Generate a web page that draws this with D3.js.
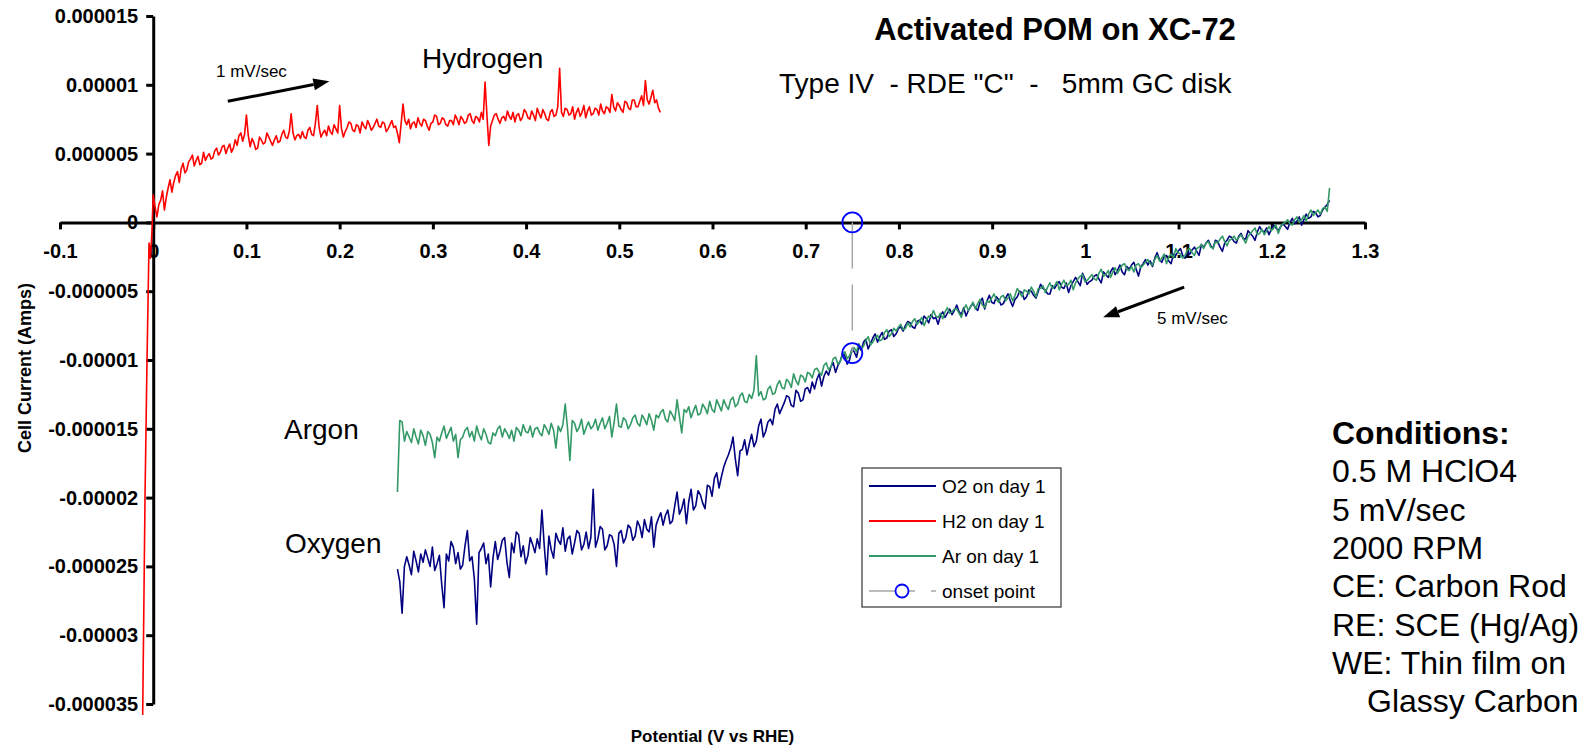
<!DOCTYPE html>
<html>
<head>
<meta charset="utf-8">
<script src="https://cdn.jsdelivr.net/npm/d3@7"></script>
<style>
  html, body { margin: 0; padding: 0; background: #fff; }
  svg { display: block; font-family: "Liberation Sans", Arial, Helvetica, sans-serif; }
  .pre { white-space: pre; }
</style>
</head>
<body>
<svg id="chart" width="1587" height="746"></svg>
<script>
// ---- Axis ticks (potential in mV, current in µA) ----
const xTickValues = [-100, 0, 100, 200, 300, 400, 500, 600, 700, 800, 900, 1000, 1100, 1200, 1300];
const xTickLabels = ["-0.1", "0", "0.1", "0.2", "0.3", "0.4", "0.5", "0.6", "0.7", "0.8", "0.9", "1", "1.1", "1.2", "1.3"];
const yTickValues = [15, 10, 5, 0, -5, -10, -15, -20, -25, -30, -35];
const yTickLabels = ["0.000015", "0.00001", "0.000005", "0", "-0.000005", "-0.00001", "-0.000015", "-0.00002", "-0.000025", "-0.00003", "-0.000035"];

// ---- Cathodic sweeps (O2 and Ar share the potential grid), mV ----
const sweepPotential = [
  262, 264.5, 267, 269.5, 272, 274.5, 277, 279.5, 282, 284.5, 287, 289.5, 292, 294.5, 297, 299.5, 302, 304.5, 307, 309.5,
  312, 314.5, 317, 319.5, 322, 324.5, 327, 329.5, 332, 334.5, 337, 339.5, 342, 344.5, 347, 349.5, 352, 354.5, 357, 359.5,
  362, 364.5, 367, 369.5, 372, 374.5, 377, 379.5, 382, 384.5, 387, 389.5, 392, 394.5, 397, 399.5, 402, 404.5, 407, 409.5,
  412, 414.5, 417, 419.5, 422, 424.5, 427, 429.5, 432, 434.5, 437, 439.5, 442, 444.5, 447, 449.5, 452, 454.5, 457, 459.5,
  462, 464.5, 467, 469.5, 472, 474.5, 477, 479.5, 482, 484.5, 487, 489.5, 492, 494.5, 497, 499.5, 502, 504.5, 507, 509.5,
  512, 514.5, 517, 519.5, 522, 524.5, 527, 529.5, 532, 534.5, 537, 539.5, 542, 544.5, 547, 549.5, 552, 554.5, 557, 559.5,
  562, 564.5, 567, 569.5, 572, 574.5, 577, 579.5, 582, 584.5, 587, 589.5, 592, 594.5, 597, 599.5, 602, 604.5, 607, 609.5,
  612, 614.5, 617, 619.5, 622, 624.5, 627, 629.5, 632, 634.5, 637, 639.5, 642, 644.5, 647, 649.5, 652, 654.5, 657, 659.5,
  662, 664.5, 667, 669.5, 672, 674.5, 677, 679.5, 682, 684.5, 687, 689.5, 692, 694.5, 697, 699.5, 702, 704.5, 707, 709.5,
  712, 714.5, 717, 719.5, 722, 724.5, 727, 729.5, 732, 734.5, 737, 739.5, 742, 744.5, 747, 749.5, 752, 754.5, 757, 759.5,
  762, 764.5, 767, 769.5, 772, 774.5, 777, 779.5, 782, 784.5, 787, 789.5, 792, 794.5, 797, 799.5, 802, 804.5, 807, 809.5,
  812, 814.5, 817, 819.5, 822, 824.5, 827, 829.5, 832, 834.5, 837, 839.5, 842, 844.5, 847, 849.5, 852, 854.5, 857, 859.5,
  862, 864.5, 867, 869.5, 872, 874.5, 877, 879.5, 882, 884.5, 887, 889.5, 892, 894.5, 897, 899.5, 902, 904.5, 907, 909.5,
  912, 914.5, 917, 919.5, 922, 924.5, 927, 929.5, 932, 934.5, 937, 939.5, 942, 944.5, 947, 949.5, 952, 954.5, 957, 959.5,
  962, 964.5, 967, 969.5, 972, 974.5, 977, 979.5, 982, 984.5, 987, 989.5, 992, 994.5, 997, 999.5, 1002, 1004.5, 1007, 1009.5,
  1012, 1014.5, 1017, 1019.5, 1022, 1024.5, 1027, 1029.5, 1032, 1034.5, 1037, 1039.5, 1042, 1044.5, 1047, 1049.5, 1052, 1054.5, 1057, 1059.5,
  1062, 1064.5, 1067, 1069.5, 1072, 1074.5, 1077, 1079.5, 1082, 1084.5, 1087, 1089.5, 1092, 1094.5, 1097, 1099.5, 1102, 1104.5, 1107, 1109.5,
  1112, 1114.5, 1117, 1119.5, 1122, 1124.5, 1127, 1129.5, 1132, 1134.5, 1137, 1139.5, 1142, 1144.5, 1147, 1149.5, 1152, 1154.5, 1157, 1159.5,
  1162, 1164.5, 1167, 1169.5, 1172, 1174.5, 1177, 1179.5, 1182, 1184.5, 1187, 1189.5, 1192, 1194.5, 1197, 1199.5, 1202, 1204.5, 1207, 1209.5,
  1212, 1214.5, 1217, 1219.5, 1222, 1224.5, 1227, 1229.5, 1232, 1234.5, 1237, 1239.5, 1242, 1244.5, 1247, 1249.5, 1252, 1254.5, 1257, 1259.5,
  1262
];

// O2 on day 1, µA
const o2Current = [
  -25.2, -26.1, -28.4, -25.0, -24.3, -24.9, -25.6, -23.9, -24.6, -25.4, -24.1, -24.7, -23.8, -24.4, -25.0, -23.6, -25.3, -24.8, -24.2, -26.3,
  -28.0, -24.1, -24.6, -23.2, -23.6, -24.8, -24.0, -25.2, -24.9, -23.5, -22.4, -24.6, -24.3, -25.9, -29.2, -24.0, -23.7, -23.3, -24.8, -24.1,
  -26.5, -24.4, -23.2, -24.5, -23.9, -23.1, -22.9, -24.7, -25.8, -23.3, -24.0, -22.5, -22.7, -24.3, -23.5, -24.8, -24.2, -22.9, -23.4, -24.0,
  -23.0, -23.7, -20.9, -23.5, -25.6, -22.8, -23.8, -24.4, -22.6, -23.1, -23.4, -22.2, -23.9, -23.0, -22.8, -24.1, -23.3, -22.4, -22.6, -23.8,
  -23.4, -22.5, -23.7, -22.9, -19.4, -23.6, -23.0, -22.1, -22.3, -23.8, -23.5, -22.7, -22.8, -23.4, -25.0, -22.6, -22.4, -23.3, -22.9, -22.0,
  -22.2, -23.1, -22.8, -21.7, -22.1, -22.9, -21.6, -22.3, -22.5, -21.4, -23.6, -22.0, -21.5, -21.1, -22.0, -21.3, -20.9, -21.9, -21.7, -20.6,
  -19.6, -21.2, -20.8, -20.1, -21.9, -20.3, -19.4, -20.9, -20.6, -19.5, -19.8, -20.4, -20.8, -19.1, -19.2, -19.9, -18.6, -18.2, -19.3, -18.5,
  -17.8, -17.3, -16.9, -16.4, -15.6, -17.2, -18.4, -16.6, -16.5, -15.8, -16.9, -16.1, -15.4, -16.3, -15.9, -14.8, -14.3, -15.6, -15.2, -14.5,
  -14.3, -14.7, -13.6, -13.2, -13.9, -13.5, -13.1, -12.6, -12.7, -13.3, -13.4, -12.2, -12.4, -13.0, -12.9, -12.1, -12.0, -12.4, -11.6, -12.1,
  -11.4, -11.0, -11.9, -11.2, -10.8, -11.1, -10.5, -10.2, -10.9, -10.4, -10.1, -9.5, -9.7, -10.3, -10.0, -9.2, -9.4, -9.8, -9.0, -9.3,
  -8.7, -8.5, -9.2, -8.8, -8.4, -8.1, -8.7, -8.3, -8.0, -8.5, -8.4, -7.9, -7.8, -8.3, -8.1, -7.7, -7.6, -7.9, -7.5, -7.2,
  -7.3, -7.6, -7.7, -7.2, -7.1, -7.4, -6.8, -7.0, -7.3, -6.7, -7.0, -6.9, -7.4, -6.8, -6.5, -6.9, -6.6, -6.3, -6.7, -6.4,
  -6.0, -6.5, -6.7, -6.2, -6.8, -6.4, -6.1, -5.9, -6.2, -6.4, -5.8, -5.5, -6.3, -5.7, -5.3, -5.8, -5.9, -5.4, -5.6, -6.0,
  -5.9, -5.5, -5.2, -5.7, -6.1, -5.6, -5.4, -5.0, -5.1, -5.6, -5.4, -4.9, -5.0, -5.3, -5.5, -5.0, -4.5, -4.8, -4.9, -5.2,
  -5.2, -4.6, -4.8, -4.5, -4.3, -4.7, -4.8, -4.4, -5.1, -4.6, -4.3, -4.0, -4.3, -4.6, -3.7, -4.1, -4.5, -4.3, -4.2, -3.9,
  -3.8, -4.1, -4.4, -3.6, -3.8, -4.0, -3.6, -3.3, -3.8, -3.5, -3.1, -3.6, -3.8, -3.2, -3.4, -3.1, -2.9, -3.4, -3.9, -3.2,
  -3.0, -2.7, -3.1, -2.8, -3.2, -2.6, -2.2, -2.7, -2.9, -2.5, -2.4, -2.8, -3.0, -2.3, -2.4, -2.1, -1.9, -2.4, -2.6, -2.2,
  -2.3, -2.0, -1.8, -2.1, -2.4, -1.6, -1.8, -1.5, -1.3, -1.7, -1.9, -1.3, -1.4, -1.8, -2.1, -1.5, -1.3, -1.0, -1.1, -1.4,
  -1.5, -1.0, -0.8, -1.2, -1.2, -0.6, -0.8, -1.0, -1.3, -0.7, -0.3, -0.6, -0.7, -0.4, -0.9, -0.5, -0.2, -0.4, -0.6, -0.3,
  -0.1, -0.3, -0.5, 0.0, 0.3, -0.1, 0.1, 0.4, -0.2, 0.2, 0.6, 0.3, 0.4, 0.8, 0.7, 0.4, 0.5, 0.9, 1.1, 1.3,
  1.6
];

// Ar on day 1, µA
const arCurrent = [
  -19.6, -14.4, -14.5, -15.9, -15.2, -15.6, -16.0, -15.0, -15.6, -16.1, -15.1, -15.5, -16.2, -15.2, -15.4, -16.0, -17.1, -15.6, -15.9, -15.3,
  -14.8, -15.7, -15.3, -14.9, -15.9, -15.4, -17.1, -15.8, -15.6, -15.1, -14.9, -15.6, -15.2, -15.9, -14.8, -15.4, -15.8, -15.0, -15.4, -16.0,
  -16.1, -15.3, -15.5, -15.0, -14.8, -15.6, -15.0, -15.3, -15.7, -15.1, -15.9, -14.9, -15.1, -15.5, -14.7, -15.2, -15.3, -14.8, -15.6, -15.0,
  -14.9, -15.3, -15.5, -14.7, -15.0, -15.4, -14.6, -15.1, -16.4, -14.8, -15.2, -14.7, -13.2, -15.0, -17.3, -14.4, -14.6, -15.2, -14.9, -14.3,
  -15.4, -14.9, -14.5, -15.0, -14.8, -14.3, -15.1, -14.6, -14.2, -15.0, -14.6, -14.1, -15.6, -14.5, -13.2, -14.8, -14.9, -14.2, -14.4, -15.0,
  -14.7, -14.2, -14.0, -14.6, -14.8, -14.0, -14.3, -14.7, -13.9, -14.4, -15.1, -14.0, -14.2, -13.8, -13.6, -14.3, -14.5, -13.7, -14.0, -14.4,
  -12.9, -14.1, -15.3, -13.6, -13.8, -13.4, -14.2, -13.7, -13.3, -14.0, -13.9, -13.2, -13.5, -13.9, -13.0, -13.6, -13.8, -12.9, -13.3, -13.7,
  -12.9, -13.3, -13.6, -12.9, -12.7, -13.4, -13.2, -12.6, -12.4, -13.0, -13.1, -12.5, -12.8, -12.2, -9.7, -12.6, -12.3, -12.9, -12.8, -12.1,
  -11.9, -12.5, -12.4, -11.8, -11.5, -12.0, -12.1, -11.4, -11.6, -12.0, -11.0, -11.5, -11.8, -11.1, -11.2, -11.6, -10.9, -11.0, -11.3, -10.7,
  -10.6, -10.9, -11.1, -10.4, -10.2, -10.7, -10.5, -9.9, -9.8, -10.3, -10.1, -9.6, -9.4, -9.9, -9.7, -9.3, -9.1, -9.4, -8.8, -9.2,
  -9.0, -8.6, -8.3, -8.9, -8.7, -8.4, -8.2, -8.6, -8.5, -8.0, -7.8, -8.3, -8.1, -7.7, -7.9, -7.6, -7.4, -7.8, -7.7, -7.3,
  -7.6, -7.2, -7.0, -7.4, -7.2, -6.9, -7.5, -7.1, -6.8, -6.9, -6.4, -6.8, -6.9, -6.6, -7.0, -6.5, -6.2, -6.6, -6.5, -6.3,
  -6.3, -6.6, -6.9, -6.3, -6.0, -6.4, -6.1, -5.8, -6.3, -5.9, -5.6, -6.0, -6.2, -5.7, -5.8, -5.5, -5.2, -5.6, -5.8, -5.4,
  -5.3, -5.7, -5.5, -5.2, -5.7, -5.3, -4.8, -5.1, -5.4, -4.9, -5.0, -5.2, -4.7, -5.0, -5.4, -4.8, -4.8, -4.6, -5.1, -4.7,
  -4.4, -4.8, -4.6, -4.3, -4.9, -4.5, -4.2, -4.6, -4.5, -4.2, -4.9, -4.4, -4.1, -3.9, -3.8, -4.3, -4.2, -4.0, -3.8, -4.1,
  -4.2, -3.7, -3.4, -3.9, -3.8, -3.5, -4.0, -3.6, -3.3, -3.7, -3.4, -3.1, -3.0, -3.4, -3.5, -3.2, -3.6, -3.1, -3.0, -3.3,
  -3.1, -2.9, -2.7, -3.0, -3.1, -2.7, -2.4, -2.8, -2.6, -2.3, -3.0, -2.5, -2.3, -2.6, -1.9, -2.2, -2.3, -2.6, -2.4, -2.0,
  -1.9, -2.2, -2.4, -1.9, -1.8, -1.6, -1.9, -1.5, -1.4, -1.8, -1.9, -1.4, -1.5, -1.2, -1.0, -1.4, -1.7, -1.3, -1.2, -1.0,
  -1.3, -1.1, -0.9, -1.2, -1.5, -1.0, -0.8, -0.6, -0.4, -0.9, -0.8, -0.5, -0.9, -0.6, -0.3, -0.6, -0.4, -0.2, -0.8, -0.3,
  -0.1, 0.0, 0.2, -0.1, -0.2, 0.2, 0.4, 0.0, 0.2, 0.5, 0.1, 0.6, 0.9, 0.5, 0.7, 0.9, 0.6, 1.0, 1.1, 0.8,
  2.5
];

// ---- Anodic sweep under H2, mV ----
const h2Potential = [
  -11.3, -8.8, -6.8, -4.5, -3.0, -1.5,
  0, 2, 4, 6, 8, 10, 12, 14, 16, 18, 20, 22, 24, 26, 28, 30, 32, 34, 36, 38,
  40, 42, 44, 46, 48, 50, 52, 54, 56, 58, 60, 62, 64, 66, 68, 70, 72, 74, 76, 78,
  80, 82, 84, 86, 88, 90, 92, 94, 96, 98, 100, 102, 104, 106, 108, 110, 112, 114, 116, 118,
  120, 122, 124, 126, 128, 130, 132, 134, 136, 138, 140, 142, 144, 146, 148, 150, 152, 154, 156, 158,
  160, 162, 164, 166, 168, 170, 172, 174, 176, 178, 180, 182, 184, 186, 188, 190, 192, 194, 196, 198,
  200, 202, 204, 206, 208, 210, 212, 214, 216, 218, 220, 222, 224, 226, 228, 230, 232, 234, 236, 238,
  240, 242, 244, 246, 248, 250, 252, 254, 256, 258, 260, 262, 264, 266, 268, 270, 272, 274, 276, 278,
  280, 282, 284, 286, 288, 290, 292, 294, 296, 298, 300, 302, 304, 306, 308, 310, 312, 314, 316, 318,
  320, 322, 324, 326, 328, 330, 332, 334, 336, 338, 340, 342, 344, 346, 348, 350, 352, 354, 356, 358,
  360, 362, 364, 366, 368, 370, 372, 374, 376, 378, 380, 382, 384, 386, 388, 390, 392, 394, 396, 398,
  400, 402, 404, 406, 408, 410, 412, 414, 416, 418, 420, 422, 424, 426, 428, 430, 432, 434, 436, 438,
  440, 442, 444, 446, 448, 450, 452, 454, 456, 458, 460, 462, 464, 466, 468, 470, 472, 474, 476, 478,
  480, 482, 484, 486, 488, 490, 492, 494, 496, 498, 500, 502, 504, 506, 508, 510, 512, 514, 516, 518,
  520, 522, 524, 526, 528, 530, 532, 534, 536, 538, 540, 542, 544
];

// H2 on day 1, µA
const h2Current = [
  -35.8, -20.0, -10.7, -1.5, -2.6, -0.9,
  2.0, 1.1, 0.4, 1.3, 1.6, 2.3, 0.9, 1.8, 2.5, 3.1, 2.2, 2.9, 3.4, 3.7, 2.9, 3.9, 4.3, 3.6, 3.8, 4.4,
  4.6, 4.9, 4.1, 4.5, 4.8, 4.2, 4.3, 5.1, 4.5, 4.8, 5.0, 4.6, 4.7, 5.2, 5.4, 4.9, 5.1, 5.5, 5.6, 5.0,
  5.4, 5.7, 5.1, 5.4, 6.0, 5.6, 6.3, 6.5, 5.9, 6.4, 7.8, 6.3, 5.5, 6.1, 5.8, 5.3, 5.4, 6.2, 6.0, 5.7,
  5.8, 6.5, 6.2, 5.9, 5.6, 6.0, 6.3, 5.8, 5.9, 6.4, 6.7, 6.2, 6.1, 6.6, 7.9, 6.5, 6.0, 6.3, 6.4, 6.1,
  6.6, 6.2, 6.1, 6.7, 6.9, 6.4, 6.3, 7.2, 8.5, 6.9, 6.2, 6.5, 6.7, 6.3, 7.0, 6.6, 6.4, 7.1, 6.8, 6.5,
  8.5, 6.8, 6.2, 6.6, 6.9, 7.3, 7.2, 6.7, 6.6, 7.1, 7.0, 6.5, 7.3, 7.0, 6.8, 7.4, 7.1, 6.7, 6.9, 7.2,
  7.5, 7.0, 6.9, 7.3, 7.2, 6.6, 6.8, 7.1, 7.4, 6.9, 7.0, 6.5, 5.8, 7.2, 8.6, 7.4, 7.1, 7.5, 6.8, 7.2,
  7.3, 6.9, 7.6, 7.2, 7.0, 7.5, 7.4, 7.0, 6.7, 7.2, 7.3, 7.8, 7.7, 7.1, 7.2, 7.6, 7.5, 7.1, 7.0, 7.4,
  7.4, 7.1, 7.8, 7.5, 7.1, 7.7, 7.5, 7.2, 7.3, 7.8, 7.9, 7.4, 7.2, 7.7, 7.6, 7.3, 8.0, 7.5, 10.2, 7.8,
  5.6, 7.0, 7.4, 7.8, 7.9, 7.5, 7.2, 7.6, 7.7, 7.4, 8.1, 7.7, 7.5, 8.0, 7.3, 7.8, 7.9, 7.4, 7.6, 8.2,
  8.0, 7.6, 7.5, 8.1, 7.8, 7.4, 8.3, 7.9, 7.6, 8.2, 7.9, 7.5, 7.4, 8.0, 8.2, 7.7, 7.8, 8.4, 11.2, 8.0,
  7.7, 8.3, 8.2, 7.8, 7.9, 8.4, 7.5, 8.0, 8.3, 7.7, 8.0, 8.5, 7.6, 8.1, 8.4, 7.8, 7.9, 8.3, 8.2, 7.8,
  8.6, 8.1, 7.9, 8.4, 8.3, 8.0, 9.3, 8.4, 8.1, 8.7, 8.5, 8.2, 8.0, 8.8, 8.7, 8.3, 8.2, 8.9, 8.9, 8.4,
  8.4, 8.8, 9.2, 8.5, 10.3, 8.9, 8.6, 9.1, 9.6, 8.7, 8.9, 8.3, 8.0
];

// Onset point: marked on the axis and on the O2 curve
const onsetPotential = [750, 750];
const onsetCurrent = [0, -9.5];

const seriesNames = ["O2 on day 1", "H2 on day 1", "Ar on day 1", "onset point"];

if (sweepPotential.length !== o2Current.length || sweepPotential.length !== arCurrent.length ||
    h2Potential.length !== h2Current.length) {
  throw new Error("series length mismatch: " + [sweepPotential.length, o2Current.length, arCurrent.length, h2Potential.length, h2Current.length].join(","));
}

// ---- Layout ----
const svg = d3.select("#chart");
const x = d3.scaleLinear().domain([-100, 1300]).range([60, 1365]);
const y = d3.scaleLinear().domain([-35, 15]).range([704, 16]);

const AXIS_FONT = 20;

// Axes
const xAxis = d3.axisBottom(x)
  .tickValues(xTickValues)
  .tickFormat((d, i) => xTickLabels[i])
  .tickSizeInner(7).tickSizeOuter(0).tickPadding(14);
const yAxis = d3.axisLeft(y)
  .tickValues(yTickValues)
  .tickFormat((d, i) => yTickLabels[i])
  .tickSizeInner(7).tickSizeOuter(0).tickPadding(8);

function styleAxis(g) {
  g.select(".domain").attr("stroke", "#000").attr("stroke-width", 3);
  g.selectAll(".tick line").attr("stroke", "#000").attr("stroke-width", 3);
  g.selectAll(".tick text")
    .attr("fill", "#000")
    .style("font-family", '"Liberation Sans", Arial, sans-serif')
    .style("font-weight", "bold")
    .style("font-size", AXIS_FONT + "px");
}

svg.append("g")
  .attr("transform", `translate(0,${y(0)})`)
  .call(xAxis)
  .call(styleAxis);

svg.append("g")
  .attr("transform", `translate(${x(0)},0)`)
  .call(yAxis)
  .call(styleAxis);

// Axis titles
svg.append("text")
  .attr("x", (x.range()[0] + x.range()[1]) / 2)
  .attr("y", 742)
  .attr("text-anchor", "middle")
  .style("font-weight", "bold").style("font-size", "17px")
  .text("Potential (V vs RHE)");

svg.append("text")
  .attr("transform", "translate(31,368) rotate(-90)")
  .attr("text-anchor", "middle")
  .style("font-weight", "bold").style("font-size", "18px")
  .text("Cell Current (Amps)");

// Series
function drawSeries(pot, cur, color) {
  const line = d3.line().x(i => x(pot[i])).y(i => y(cur[i]));
  svg.append("path")
    .datum(d3.range(pot.length))
    .attr("d", line)
    .attr("fill", "none")
    .attr("stroke", color)
    .attr("stroke-width", 1.6)
    .attr("stroke-linejoin", "round");
}

const colors = { o2: "#000080", h2: "#ff0000", ar: "#339966", onset: "#0000ff", onsetLine: "#a6a6a6" };

drawSeries(sweepPotential, o2Current, colors.o2);
drawSeries(h2Potential, h2Current, colors.h2);
drawSeries(sweepPotential, arCurrent, colors.ar);

// Onset marker series: dashed gray connector with open circles
const onsetLine = d3.line().x(i => x(onsetPotential[i])).y(i => y(onsetCurrent[i]));
svg.append("path")
  .datum(d3.range(onsetPotential.length))
  .attr("d", onsetLine)
  .attr("fill", "none")
  .attr("stroke", colors.onsetLine)
  .attr("stroke-width", 1.5)
  .attr("stroke-dasharray", "46,16");

svg.selectAll("circle.onset")
  .data(d3.range(onsetPotential.length))
  .join("circle")
  .attr("class", "onset")
  .attr("cx", i => x(onsetPotential[i]))
  .attr("cy", i => y(onsetCurrent[i]))
  .attr("r", 10)
  .attr("fill", "none")
  .attr("stroke", colors.onset)
  .attr("stroke-width", 1.8);

// Sweep direction arrows (placed in data space)
function arrow(from, to) {
  const x1 = x(from[0]), y1 = y(from[1]), x2 = x(to[0]), y2 = y(to[1]);
  const ang = Math.atan2(y2 - y1, x2 - x1);
  const headLen = 16, headHalf = 6;
  const bx = x2 - headLen * Math.cos(ang), by = y2 - headLen * Math.sin(ang);
  svg.append("line")
    .attr("x1", x1).attr("y1", y1).attr("x2", bx).attr("y2", by)
    .attr("stroke", "#000").attr("stroke-width", 3);
  const px = -Math.sin(ang) * headHalf, py = Math.cos(ang) * headHalf;
  svg.append("path")
    .attr("d", `M${x2},${y2}L${bx + px},${by + py}L${bx - px},${by - py}Z`)
    .attr("fill", "#000");
}
arrow([80, 8.8], [189, 10.25]);
arrow([1106, -4.7], [1019, -6.9]);

// Annotations
function label(tx, ty, str, size, weight, anchor) {
  svg.append("text")
    .attr("class", "pre")
    .attr("x", tx).attr("y", ty)
    .attr("text-anchor", anchor || "start")
    .style("font-size", size + "px")
    .style("font-weight", weight || "normal")
    .attr("fill", "#000")
    .text(str);
}
label(216, 77, "1 mV/sec", 17);
label(1157, 324, "5 mV/sec", 17);
label(422, 68, "Hydrogen", 28);
label(284, 439, "Argon", 28);
label(285, 553, "Oxygen", 28);
label(1055, 40, "Activated POM on XC-72", 31, "bold", "middle");
label(779, 93, "Type IV  - RDE \"C\"  -   5mm GC disk", 28);

const conditions = ["Conditions:", "0.5 M HClO4", "5 mV/sec", "2000 RPM", "CE: Carbon Rod", "RE: SCE (Hg/Ag)", "WE: Thin film on", "Glassy Carbon"];
conditions.forEach((s, i) => {
  label(i === conditions.length - 1 ? 1367 : 1332, 444 + 38.3 * i, s, 32, i === 0 ? "bold" : "normal");
});

// Legend
const lg = svg.append("g");
lg.append("rect")
  .attr("x", 862).attr("y", 468).attr("width", 199).attr("height", 139)
  .attr("fill", "#fff").attr("stroke", "#333").attr("stroke-width", 1.2);
const legendColors = [colors.o2, colors.h2, colors.ar, colors.onsetLine];
seriesNames.forEach((name, i) => {
  const ry = 486 + 35 * i;
  const ln = lg.append("line")
    .attr("x1", 869).attr("x2", 936).attr("y1", ry).attr("y2", ry)
    .attr("stroke", legendColors[i]).attr("stroke-width", i === 3 ? 1.5 : 1.8);
  if (i === 3) {
    ln.attr("stroke-dasharray", "46,16");
    lg.append("circle").attr("cx", 902).attr("cy", ry).attr("r", 6.5)
      .attr("fill", "#fff").attr("stroke", colors.onset).attr("stroke-width", 1.8);
  }
  lg.append("text")
    .attr("x", 942).attr("y", ry + 7)
    .style("font-size", "19px")
    .text(name);
});
</script>
</body>
</html>
